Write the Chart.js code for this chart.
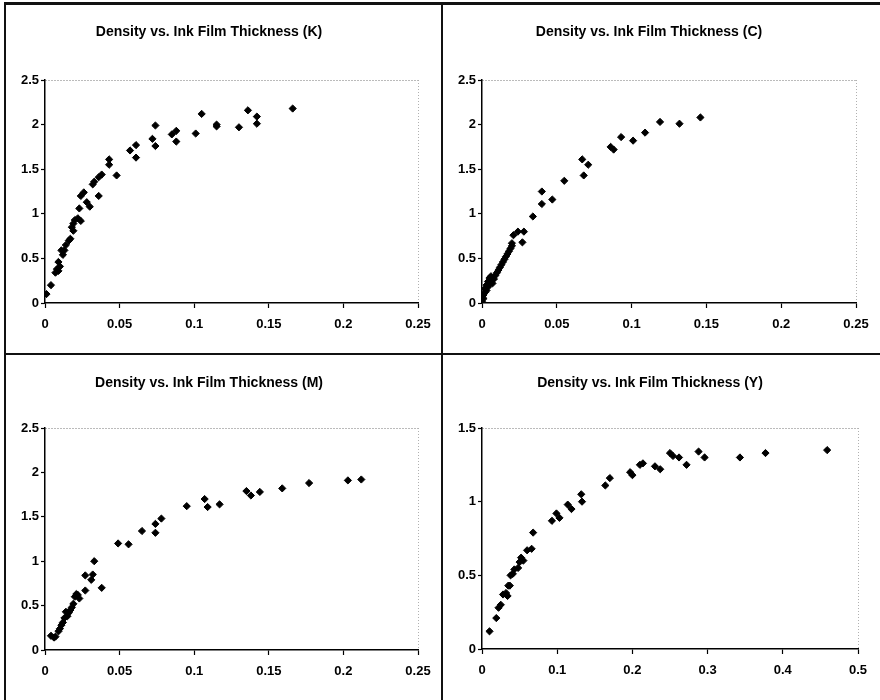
<!DOCTYPE html>
<html>
<head>
<meta charset="utf-8">
<script src="https://cdn.jsdelivr.net/npm/chart.js@4.4.1/dist/chart.umd.min.js"></script>
<style>
  html, body { margin: 0; padding: 0; background: #fff; }
  #wrap { position: relative; width: 880px; height: 700px; overflow: hidden; background: #fff; }
  canvas { position: absolute; }
  .ln { position: absolute; background: #111; }
</style>
</head>
<body>
<div id="wrap">
  <canvas id="cK" width="442" height="354" style="left:0;top:0"></canvas>
  <canvas id="cC" width="438" height="354" style="left:442px;top:0"></canvas>
  <canvas id="cM" width="442" height="346" style="left:0;top:354px"></canvas>
  <canvas id="cY" width="438" height="346" style="left:442px;top:354px"></canvas>
  <div class="ln" style="left:5px;top:2px;width:875px;height:3px"></div>
  <div class="ln" style="left:4px;top:2px;width:2px;height:698px"></div>
  <div class="ln" style="left:441px;top:2px;width:2px;height:698px"></div>
  <div class="ln" style="left:5px;top:353px;width:875px;height:2px"></div>
</div>
<script>
// ---- data (ink film thickness vs density) ----
const titleK = "Density vs. Ink Film Thickness (K)";
const titleC = "Density vs. Ink Film Thickness (C)";
const titleM = "Density vs. Ink Film Thickness (M)";
const titleY = "Density vs. Ink Film Thickness (Y)";

const xTicksCMK = ["0", "0.05", "0.1", "0.15", "0.2", "0.25"];
const yTicksCMK = ["0", "0.5", "1", "1.5", "2", "2.5"];
const xTicksY = ["0", "0.1", "0.2", "0.3", "0.4", "0.5"];
const yTicksY = ["0", "0.5", "1", "1.5"];

const kThickness = [0.001,0.004,0.007,0.008,0.009,0.009,0.010,0.011,0.012,0.013,0.014,0.016,0.017,0.018,0.019,0.019,0.020,0.022,0.024,0.023,0.024,0.026,0.028,0.030,0.032,0.033,0.036,0.036,0.038,0.043,0.043,0.048,0.057,0.061,0.061,0.072,0.074,0.074,0.085,0.088,0.088,0.101,0.105,0.115,0.115,0.130,0.136,0.142,0.142,0.166];
const kDensity   = [0.10,0.20,0.34,0.38,0.36,0.46,0.41,0.59,0.54,0.59,0.65,0.70,0.72,0.85,0.81,0.89,0.93,0.95,0.92,1.06,1.20,1.24,1.13,1.08,1.33,1.36,1.20,1.41,1.44,1.61,1.55,1.43,1.71,1.77,1.63,1.84,1.99,1.76,1.89,1.93,1.81,1.90,2.12,2.00,1.98,1.97,2.16,2.09,2.01,2.18];

const cThickness = [0.000,0.001,0.001,0.002,0.002,0.003,0.003,0.004,0.004,0.005,0.005,0.006,0.006,0.007,0.007,0.008,0.009,0.010,0.011,0.012,0.013,0.014,0.015,0.016,0.017,0.018,0.019,0.020,0.020,0.021,0.024,0.028,0.027,0.034,0.040,0.040,0.047,0.055,0.067,0.068,0.071,0.086,0.088,0.093,0.101,0.109,0.119,0.132,0.146];
const cDensity   = [0.02,0.05,0.09,0.12,0.16,0.20,0.14,0.24,0.18,0.28,0.21,0.24,0.30,0.22,0.26,0.27,0.31,0.34,0.37,0.40,0.43,0.46,0.49,0.52,0.55,0.58,0.61,0.64,0.67,0.76,0.80,0.80,0.68,0.97,1.25,1.11,1.16,1.37,1.61,1.43,1.55,1.75,1.72,1.86,1.82,1.91,2.03,2.01,2.08];

const mThickness = [0.004,0.006,0.007,0.009,0.010,0.011,0.012,0.013,0.014,0.015,0.016,0.017,0.018,0.019,0.020,0.021,0.022,0.023,0.027,0.027,0.031,0.032,0.033,0.038,0.049,0.056,0.065,0.074,0.074,0.078,0.095,0.107,0.109,0.117,0.135,0.138,0.144,0.159,0.177,0.203,0.212];
const mDensity   = [0.16,0.14,0.15,0.21,0.24,0.28,0.31,0.36,0.43,0.38,0.42,0.45,0.48,0.52,0.60,0.63,0.62,0.58,0.84,0.67,0.79,0.85,1.00,0.70,1.20,1.19,1.34,1.42,1.32,1.48,1.62,1.70,1.61,1.64,1.79,1.74,1.78,1.82,1.88,1.91,1.92];

const yThickness = [0.010,0.019,0.022,0.025,0.028,0.032,0.034,0.035,0.037,0.038,0.041,0.043,0.048,0.050,0.052,0.055,0.060,0.066,0.068,0.093,0.099,0.103,0.114,0.119,0.132,0.133,0.164,0.170,0.197,0.200,0.210,0.214,0.230,0.237,0.250,0.254,0.262,0.272,0.288,0.296,0.343,0.377,0.459];
const yDensity   = [0.12,0.21,0.28,0.30,0.37,0.38,0.36,0.43,0.43,0.50,0.51,0.54,0.55,0.59,0.62,0.60,0.67,0.68,0.79,0.87,0.92,0.89,0.98,0.95,1.05,1.00,1.11,1.16,1.20,1.18,1.25,1.26,1.24,1.22,1.33,1.31,1.30,1.25,1.34,1.30,1.30,1.33,1.35];

// ---- drawing ----
const FONT = "'Liberation Sans Narrow', 'Liberation Sans', Arial, sans-serif";

function makePanel(id, title, xs, ys, xMax, xStep, yMax, yStep, xLabels, yLabels, lay) {
  const pts = xs.map((x, i) => ({ x: x, y: ys[i] }));
  new Chart(document.getElementById(id), {
    type: 'scatter',
    data: { datasets: [{
      data: pts,
      pointStyle: 'rectRot',
      pointRadius: 3.6,
      pointBorderWidth: 1,
      backgroundColor: '#000',
      borderColor: '#000'
    }]},
    options: {
      responsive: false,
      animation: false,
      devicePixelRatio: 1,
      layout: { padding: { left: 0, right: lay.right, top: 0, bottom: 0 } },
      plugins: {
        legend: { display: false },
        tooltip: { enabled: false },
        title: {
          display: true,
          text: title,
          color: '#000',
          font: { family: FONT, size: 14, weight: 'bold', lineHeight: 1 },
          padding: { top: lay.titleTop, bottom: lay.titleBottom }
        }
      },
      scales: {
        x: {
          type: 'linear',
          min: 0, max: xMax,
          afterFit: s => { s.height = lay.xh; },
          border: { display: true, color: '#000', width: 1.5, dash: [1, 2] },
          grid: {
            drawOnChartArea: true,
            color: c => (c.tick && Math.abs(c.tick.value - xMax) < 1e-9) ? '#b0b0b0' : 'rgba(0,0,0,0)',
            lineWidth: 1,
            tickColor: '#000',
            tickLength: 5,
            tickWidth: 1.2
          },
          ticks: {
            stepSize: xStep,
            autoSkip: false,
            maxRotation: 0,
            padding: 9,
            color: '#000',
            font: { family: FONT, size: 13, weight: 'bold' },
            callback: (v, i) => xLabels[i]
          }
        },
        y: {
          type: 'linear',
          min: 0, max: yMax,
          afterFit: s => { s.width = lay.yw; },
          border: { display: true, color: '#000', width: 1.5, dash: [1, 2] },
          grid: {
            color: c => (c.tick && Math.abs(c.tick.value - yMax) < 1e-9) ? '#777' : 'rgba(0,0,0,0)',
            lineWidth: 1,
            tickColor: '#000',
            tickLength: 4,
            tickWidth: 1.2
          },
          ticks: {
            stepSize: yStep,
            autoSkip: false,
            padding: 2,
            color: '#000',
            font: { family: FONT, size: 13, weight: 'bold' },
            callback: (v, i) => yLabels[i]
          }
        }
      }
    }
  });
}

makePanel('cK', titleK, kThickness, kDensity, 0.25, 0.05, 2.5, 0.5, xTicksCMK, yTicksCMK,
  { right: 24, titleTop: 25, titleBottom: 41, xh: 51, yw: 45 });
makePanel('cC', titleC, cThickness, cDensity, 0.25, 0.05, 2.5, 0.5, xTicksCMK, yTicksCMK,
  { right: 24, titleTop: 25, titleBottom: 41, xh: 51, yw: 40 });
makePanel('cM', titleM, mThickness, mDensity, 0.25, 0.05, 2.5, 0.5, xTicksCMK, yTicksCMK,
  { right: 24, titleTop: 22, titleBottom: 38, xh: 50, yw: 45 });
makePanel('cY', titleY, yThickness, yDensity, 0.5, 0.1, 1.5, 0.5, xTicksY, yTicksY,
  { right: 22, titleTop: 22, titleBottom: 38, xh: 51, yw: 40 });
</script>
</body>
</html>
